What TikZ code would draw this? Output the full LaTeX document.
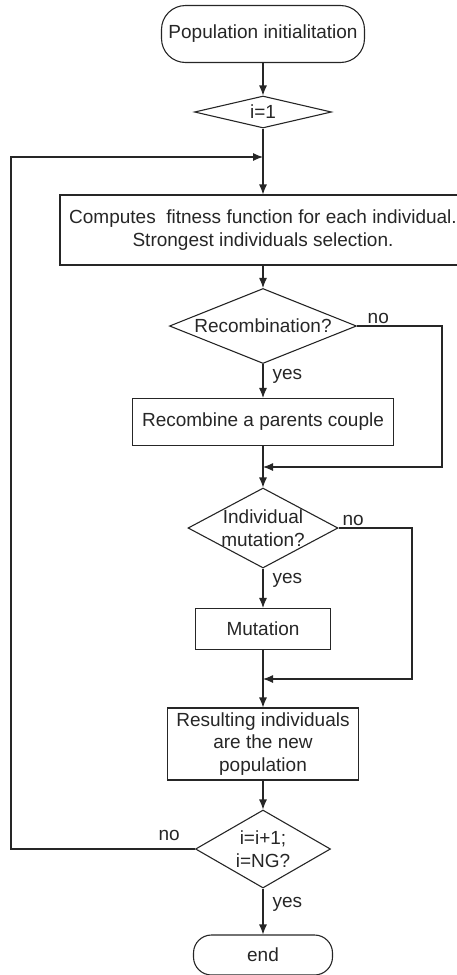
\documentclass[tikz,border=0pt]{standalone}
\usepackage{fontspec}
\setmainfont{Liberation Sans}
\usetikzlibrary{shapes.geometric, arrows.meta}

\begin{document}
\begin{tikzpicture}[x=1pt, y=-1pt, line width=1.1pt, color=black!85,
  font=\fontsize{19}{22.5}\selectfont,
  term/.style={draw, rectangle, rounded corners=#1, inner sep=0pt},
  proc/.style={draw, rectangle, inner sep=0pt, align=center},
  dec/.style={draw, diamond, inner sep=0pt},
  ans/.style={inner sep=0pt, align=center},
  flow/.style={-{Latex[length=10pt,width=8pt]}}]
\useasboundingbox (0,0) rectangle (457,975);
\node[term=24pt, minimum width=203pt, minimum height=57pt] (init) at (263,34) {Population initialitation};
\node[dec, minimum width=137pt, minimum height=32pt, label={[ans]center:i=1}] (first) at (263,112) {};
\node[proc, minimum width=406pt, minimum height=70pt] (fit) at (263,230) {Computes\ \ fitness function for each individual.\\Strongest individuals selection.};
\node[dec, minimum width=187pt, minimum height=75pt, label={[ans]center:Recombination?}] (rec) at (263,326) {};
\node[proc, minimum width=261pt, minimum height=47pt] (recbox) at (263,422) {Recombine a parents couple};
\node[dec, minimum width=150pt, minimum height=80pt, label={[ans]center:{Individual\\mutation?}}] (mut) at (263,528) {};
\node[proc, minimum width=135pt, minimum height=41pt] (mutbox) at (263,629) {Mutation};
\node[proc, minimum width=191pt, minimum height=72pt] (res) at (263,744) {Resulting individuals\\are the new\\population};
\node[dec, minimum width=135pt, minimum height=78pt, label={[ans]center:{i=i+1;\\i=NG?}}] (ng) at (263,849) {};
\node[term=18pt, minimum width=139pt, minimum height=40pt] (stop) at (263,955) {end};

\coordinate (loop) at (263,157);
\coordinate (join1) at (263,467);
\coordinate (join2) at (263,679);

\draw[flow] (init) -- (first);
\draw[flow] (first) -- (fit);
\draw[flow] (fit) -- (rec);
\draw[flow] (rec) -- node[ans, right=9pt, pos=0.35] (recyes) {yes} (recbox);
\draw[flow] (recbox) -- (mut);
\draw[flow] (mut) -- node[ans, right=9pt, pos=0.3] (mutyes) {yes} (mutbox);
\draw[flow] (mutbox) -- (res);
\draw[flow] (res) -- (ng);
\draw[flow] (ng) -- node[ans, right=9pt, pos=0.35] (ngyes) {yes} (stop);

\draw[flow] (rec.east) -- node[ans, above=2pt, pos=0.25] (recno) {no} (442,326) |- (join1);
\draw[flow] (mut.east) -- node[ans, above=2pt, pos=0.2] (mutno) {no} (412,528) |- (join2);
\draw[flow] (ng.west) -- node[ans, above=8pt, pos=0.14] (ngno) {no} (11,849) |- (loop);
\end{tikzpicture}
\end{document}
